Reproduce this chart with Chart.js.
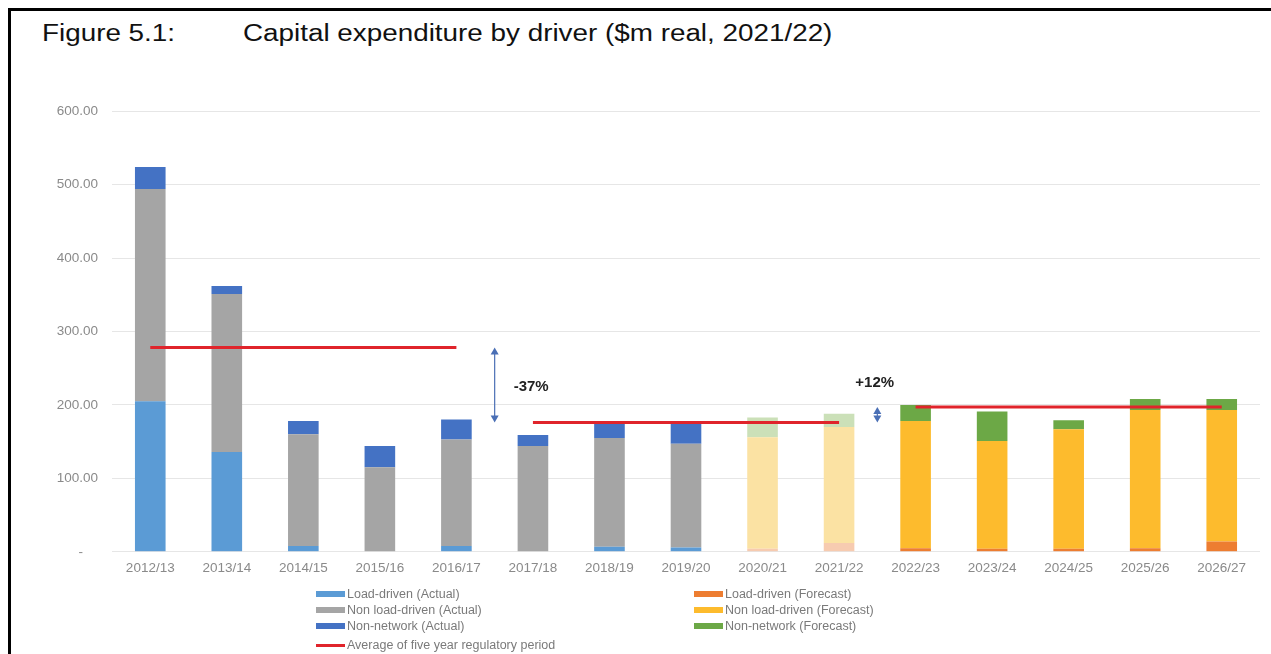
<!DOCTYPE html>
<html>
<head>
<meta charset="utf-8">
<title>Capital expenditure by driver</title>
<script src="https://cdn.jsdelivr.net/npm/chart.js@4"></script>
<style>
  html, body { margin: 0; padding: 0; background: #fff; }
  body { width: 1271px; height: 654px; position: relative; overflow: hidden; font-family: "Liberation Sans", Arial, sans-serif; }
  #frame { position: absolute; left: 8px; top: 8px; right: 0; bottom: 0; border-top: 3px solid #000; border-left: 3px solid #000; }
  .title { position: absolute; top: 20px; font-size: 23px; color: #111; white-space: nowrap; transform: scaleX(1.21); transform-origin: left center; }
  #chartBox { position: absolute; left: 20px; top: 89px; width: 1240px; height: 487px; }
  #legend { position: absolute; left: 0; top: 0; width: 1271px; height: 654px; pointer-events: none; }
  .lg { position: absolute; display: flex; align-items: center; font-size: 12.5px; color: #7a7a7a; white-space: nowrap; }
  .lg i { display: inline-block; width: 29px; margin-right: 2px; }
</style>
</head>
<body>
<div id="frame"></div>
<div class="title" style="left:42px">Figure 5.1:</div>
<div class="title" style="left:243px">Capital expenditure by driver ($m real, 2021/22)</div>
<div id="chartBox"><canvas id="capex"></canvas></div>
<div id="legend"></div>

<script>
// financial years
const years = ['2012/13', '2013/14', '2014/15', '2015/16', '2016/17', '2017/18', '2018/19', '2019/20',
  '2020/21', '2021/22', '2022/23', '2023/24', '2024/25', '2025/26', '2026/27'];

// $m real 2021/22 - actuals
const loadActual    = [205, 136, 8, 0, 8, 0, 7, 6, null, null, null, null, null, null, null];
const nonLoadActual = [289, 215, 152, 115, 145, 144, 148, 141, null, null, null, null, null, null, null];
const nonNetActual  = [30, 11, 18, 29, 27, 15, 19, 28, null, null, null, null, null, null, null];

// forecasts (2020/21 and 2021/22 are estimates, shown faded)
const loadForecast    = [null, null, null, null, null, null, null, null, 4, 12, 5, 4, 4, 5, 14];
const nonLoadForecast = [null, null, null, null, null, null, null, null, 152, 158, 173, 147, 163, 188, 179];
const nonNetForecast  = [null, null, null, null, null, null, null, null, 27, 18, 22, 40, 12, 15, 15];

// average of each five year regulatory period
const avgPeriod1 = [278, 278, 278, 278, 278, null, null, null, null, null, null, null, null, null, null];
const avgPeriod2 = [null, null, null, null, null, 176, 176, 176, 176, 176, null, null, null, null, null];
const avgPeriod3 = [null, null, null, null, null, null, null, null, null, null, 197, 197, 197, 197, 197];

const changeLabels = ['-37%', '+12%'];
const yTicks = [0, 100, 200, 300, 400, 500, 600];

const fadedYears = ['2020/21', '2021/22'];
const shade = (solid, faded) => years.map(y => fadedYears.includes(y) ? faded : solid);

const bar = (label, data, color) => ({
  type: 'bar', label, data, backgroundColor: color, stack: 'capex', order: 2,
  barPercentage: 0.4, categoryPercentage: 1.0
});
const avgLine = (data) => ({
  type: 'line', label: 'Average of five year regulatory period', data,
  borderColor: '#E0242B', borderWidth: 3, pointRadius: 0, fill: false, order: 0, spanGaps: false
});

const datasets = [
  bar('Load-driven (Actual)', loadActual, '#5B9BD5'),
  bar('Non load-driven (Actual)', nonLoadActual, '#A5A5A5'),
  bar('Non-network (Actual)', nonNetActual, '#4472C4'),
  bar('Load-driven (Forecast)', loadForecast, shade('#ED7D31', '#F7CBB0')),
  bar('Non load-driven (Forecast)', nonLoadForecast, shade('#FDBB2D', '#FBE2A3')),
  bar('Non-network (Forecast)', nonNetForecast, shade('#6CA846', '#CBE0B8')),
  avgLine(avgPeriod1),
  avgLine(avgPeriod2),
  avgLine(avgPeriod3)
];

// double-headed arrows between the period averages, with the % change
const changeArrows = {
  id: 'changeArrows',
  afterDatasetsDraw(chart) {
    const { ctx, scales: { x, y } } = chart;
    const spots = [
      { from: avgPeriod1[4], to: avgPeriod2[5], between: [4, 5], text: changeLabels[0], tx: 19, ty: 2 },
      { from: avgPeriod3[10], to: avgPeriod2[9], between: [9, 10], text: changeLabels[1], tx: -22, ty: -32 }
    ];
    ctx.save();
    spots.forEach(s => {
      const ax = (x.getPixelForValue(s.between[0]) + x.getPixelForValue(s.between[1])) / 2;
      const y1 = y.getPixelForValue(Math.max(s.from, s.to));
      const y2 = y.getPixelForValue(Math.min(s.from, s.to));
      ctx.strokeStyle = '#4A6FB5';
      ctx.fillStyle = '#4A6FB5';
      ctx.lineWidth = 1.2;
      ctx.beginPath();
      ctx.moveTo(ax, y1 + 4);
      ctx.lineTo(ax, y2 - 4);
      ctx.stroke();
      [[y1, 1], [y2, -1]].forEach(([py, dir]) => {
        ctx.beginPath();
        ctx.moveTo(ax, py);
        ctx.lineTo(ax - 4, py + dir * 7);
        ctx.lineTo(ax + 4, py + dir * 7);
        ctx.closePath();
        ctx.fill();
      });
      ctx.fillStyle = '#222';
      ctx.font = 'bold 15px "Liberation Sans", Arial, sans-serif';
      ctx.textAlign = 'left';
      ctx.textBaseline = 'middle';
      ctx.fillText(s.text, ax + s.tx, (y1 + y2) / 2 + s.ty);
    });
    ctx.restore();
  }
};

const chart = new Chart(document.getElementById('capex'), {
  data: { labels: years, datasets },
  options: {
    responsive: true,
    maintainAspectRatio: false,
    animation: false,
    layout: { padding: { top: 4, right: 0, bottom: 0, left: 0 } },
    plugins: { legend: { display: false }, tooltip: { enabled: false } },
    scales: {
      x: {
        stacked: true,
        grid: { display: false },
        border: { display: false },
        ticks: { color: '#8a8a8a', font: { size: 13.5, family: '"Liberation Sans", Arial, sans-serif' }, padding: 0, maxRotation: 0 }
      },
      y: {
        stacked: true,
        min: 0, max: 600,
        afterBuildTicks(scale) { scale.ticks = yTicks.map(v => ({ value: v })); },
        afterFit(scale) { scale.width = 92; },
        grid: { color: '#E6E6E6', lineWidth: 1, drawTicks: false },
        border: { display: false },
        ticks: {
          color: '#8a8a8a', padding: 14,
          font: { size: 13.5, family: '"Liberation Sans", Arial, sans-serif' },
          callback: v => v === 0 ? '-    ' : v.toFixed(2)
        }
      }
    }
  },
  plugins: [changeArrows]
});

// two column legend below the axis
const legendRows = [
  { i: 0, left: 316, top: 587 }, { i: 1, left: 316, top: 603 }, { i: 2, left: 316, top: 619 }, { i: 6, left: 316, top: 638 },
  { i: 3, left: 694, top: 587 }, { i: 4, left: 694, top: 603 }, { i: 5, left: 694, top: 619 }
];
const legendBox = document.getElementById('legend');
legendRows.forEach(r => {
  const ds = chart.data.datasets[r.i];
  const isLine = ds.type === 'line';
  const col = isLine ? ds.borderColor : (Array.isArray(ds.backgroundColor) ? ds.backgroundColor[years.length - 1] : ds.backgroundColor);
  const el = document.createElement('div');
  el.className = 'lg';
  el.style.left = r.left + 'px';
  el.style.top = r.top + 'px';
  el.innerHTML = `<i style="height:${isLine ? 3 : 6}px;background:${col}"></i>${ds.label}`;
  legendBox.appendChild(el);
});
</script>
</body>
</html>
